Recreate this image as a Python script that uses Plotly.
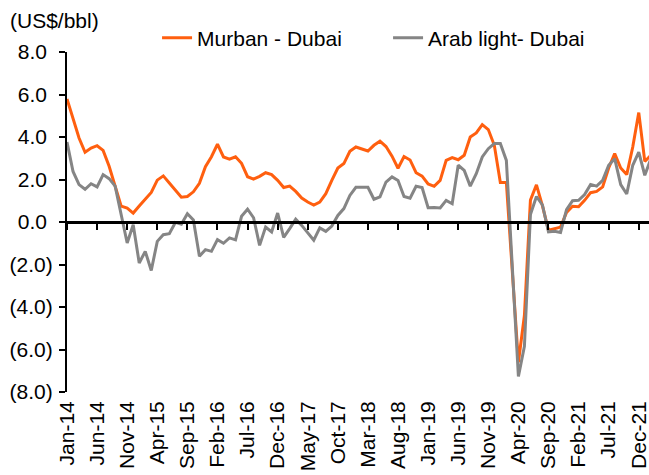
import pandas as pd
import plotly.graph_objects as go

# Monthly categories Jan-14 .. Feb-22
months = list(pd.date_range("2014-01-01", periods=98, freq="MS").strftime("%b-%y"))

murban_dubai = [
    5.79, 4.81, 3.95, 3.28, 3.48, 3.59, 3.37, 2.62, 1.70, 0.75,
    0.65, 0.42, 0.75, 1.08, 1.39, 1.97, 2.17, 1.84, 1.50, 1.17,
    1.20, 1.42, 1.82, 2.60, 3.07, 3.66, 3.06, 2.96, 3.07, 2.76,
    2.13, 2.02, 2.15, 2.32, 2.23, 1.96, 1.62, 1.69, 1.44, 1.13,
    0.94, 0.80, 0.94, 1.33, 1.96, 2.54, 2.75, 3.33, 3.53, 3.42,
    3.34, 3.61, 3.80, 3.55, 3.10, 2.53, 3.08, 2.92, 2.32, 2.16,
    1.79, 1.68, 1.96, 2.90, 3.03, 2.93, 3.14, 4.00, 4.19, 4.58,
    4.35, 3.61, 1.86, 1.86, -2.30, -6.60, -4.40, 1.03, 1.75, 0.76,
    -0.39, -0.33, -0.24, 0.45, 0.74, 0.72, 1.02, 1.38, 1.44, 1.65,
    2.54, 3.22, 2.54, 2.23, 3.53, 5.15, 2.85, 3.14,
]

arab_light_dubai = [
    3.76, 2.38, 1.76, 1.54, 1.80, 1.65, 2.23, 2.04, 1.69, 0.30,
    -0.99, -0.13, -1.93, -1.38, -2.28, -0.91, -0.60, -0.55, -0.02, -0.10,
    0.39, 0.10, -1.61, -1.30, -1.38, -0.83, -1.00, -0.75, -0.84, 0.27,
    0.60, 0.20, -1.10, -0.24, -0.47, 0.42, -0.72, -0.31, 0.13, -0.16,
    -0.50, -0.86, -0.28, -0.44, -0.19, 0.31, 0.63, 1.25, 1.63, 1.63,
    1.63, 1.07, 1.18, 1.88, 2.12, 1.95, 1.20, 1.12, 1.68, 1.62,
    0.67, 0.68, 0.66, 1.02, 0.86, 2.67, 2.43, 1.69, 2.27, 3.06,
    3.45, 3.69, 3.69, 2.90, -2.20, -7.27, -5.85, 0.35, 1.20, 0.80,
    -0.47, -0.44, -0.49, 0.58, 1.00, 1.02, 1.29, 1.77, 1.69, 1.96,
    2.67, 2.98, 1.76, 1.32, 2.67, 3.29, 2.20, 2.97,
]

x_tick_labels = months[::5][:20]
y_tick_vals = [8, 6, 4, 2, 0, -2, -4, -6, -8]
y_tick_text = ["8.0\u2008", "6.0\u2008", "4.0\u2008", "2.0\u2008", "0.0\u2008",
               "(2.0)", "(4.0)", "(6.0)", "(8.0)"]

FONT = "Liberation Sans, Arial, sans-serif"
FS = 21
ORANGE = "#FF5F0F"
GREY = "#858585"

fig = go.Figure()
fig.add_trace(go.Scatter(x=months, y=murban_dubai, mode="lines", name="Murban - Dubai",
                         line=dict(color=ORANGE, width=3)))
fig.add_trace(go.Scatter(x=months, y=arab_light_dubai, mode="lines", name="Arab light- Dubai",
                         line=dict(color=GREY, width=3)))
# helper trace so the zero-crossing axis (with tick marks) is drawn
fig.add_trace(go.Scatter(x=months[:1], y=[None], xaxis="x2", showlegend=False,
                         hoverinfo="skip", mode="lines"))

fig.update_layout(
    width=649, height=475,
    margin=dict(l=67, r=0, t=52, b=83, autoexpand=False),
    paper_bgcolor="white", plot_bgcolor="white",
    font=dict(family=FONT, size=FS, color="black"),
    showlegend=True,
    legend=dict(orientation="h", xref="container", yref="container",
                x=0.242, xanchor="left", y=0.92, yanchor="middle",
                font=dict(size=FS), bgcolor="rgba(0,0,0,0)", entrywidth=186,
                itemwidth=30, tracegroupgap=0),
    xaxis=dict(
        type="category", categoryorder="array", categoryarray=months,
        range=[0, 96.7], showgrid=False, zeroline=False, showline=False,
        tickmode="array", tickvals=x_tick_labels, ticktext=x_tick_labels,
        tickangle=-90, ticks="", ticklabelstandoff=4, automargin=False,
        tickfont=dict(size=FS),
    ),
    xaxis2=dict(
        type="category", matches="x", overlaying="x", anchor="free", position=0.5,
        side="bottom", showgrid=False, zeroline=False, showline=True,
        linecolor="black", linewidth=2.5, automargin=False,
        tickmode="array", tickvals=x_tick_labels, ticks="outside", ticklen=6,
        tickwidth=2, tickcolor="black", showticklabels=False,
    ),
    yaxis=dict(
        range=[-8, 8], showgrid=False, zeroline=False, showline=True,
        linecolor="black", linewidth=2, ticks="outside", ticklen=6, tickwidth=2,
        tickcolor="black", tickmode="array", tickvals=y_tick_vals, ticktext=y_tick_text,
        tickfont=dict(size=FS), ticklabelstandoff=2, automargin=False,
    ),
    annotations=[dict(text="(US$/bbl)", xref="paper", yref="paper", x=-0.102, y=1.092,
                      xanchor="left", yanchor="middle", showarrow=False,
                      font=dict(size=FS))],
)

fig.write_html(
    "out.html",
    config={"displayModeBar": False},
    post_script="document.body.style.margin='0';document.body.style.overflow='hidden';",
)
